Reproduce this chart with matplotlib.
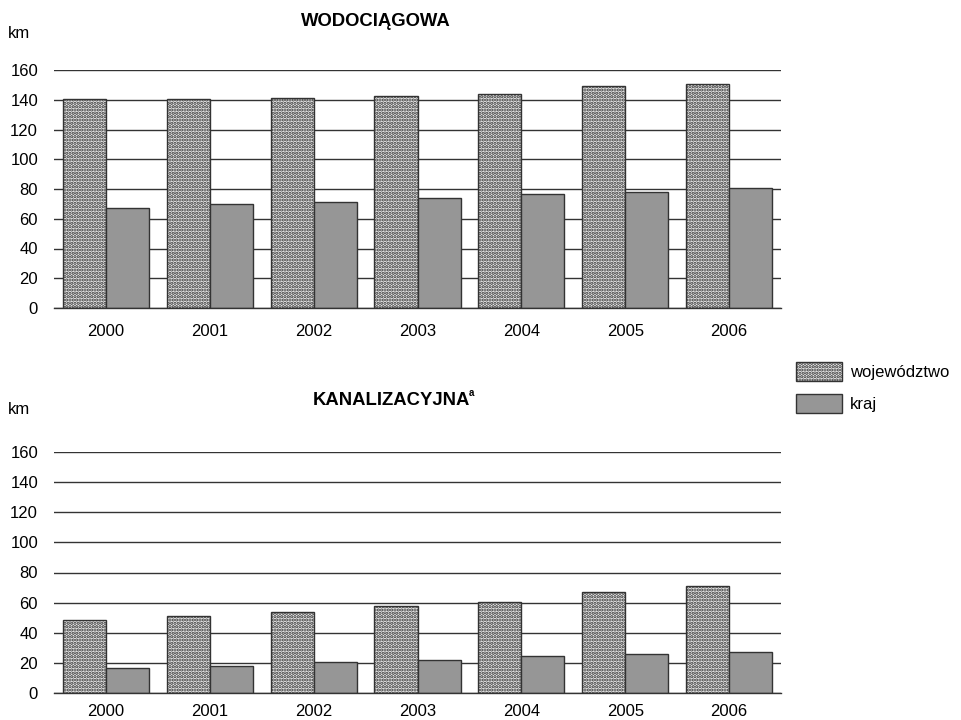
import matplotlib
matplotlib.use("Agg")
import matplotlib.pyplot as plt
import numpy as np
from matplotlib.patches import Patch

plt.rcParams['font.family'] = ['Liberation Sans', 'DejaVu Sans']
plt.rcParams['hatch.linewidth'] = 1.6

years = ["2000", "2001", "2002", "2003", "2004", "2005", "2006"]
y_ticks = [0, 20, 40, 60, 80, 100, 120, 140, 160]

# sieć wodociągowa (km na 100 km2)
woda_wojewodztwo = [140.3, 140.2, 141.4, 142.5, 144.0, 149.5, 150.6]
woda_kraj = [67.2, 69.9, 71.3, 73.9, 76.6, 78.0, 80.7]

# sieć kanalizacyjna (km na 100 km2)
kanal_wojewodztwo = [48.2, 50.8, 53.5, 57.5, 60.2, 66.8, 70.8]
kanal_kraj = [16.2, 17.6, 20.2, 21.6, 24.2, 25.6, 26.9]

label_woj = "województwo"
label_kraj = "kraj"

W, H = 962, 720
fig = plt.figure(figsize=(W / 100, H / 100), dpi=100)

DOT_FACE = "#ececec"
DOT_EDGE = "#333333"
KRAJ_FACE = "#969696"
EDGE = "#333333"
GRID = "#333333"


def fx(px):
    return px / W


def fy(py):
    return 1 - py / H


def draw_panel(ax, woj, kraj, label_pad):
    x = np.arange(len(years))
    bw = 0.415
    ax.bar(x - bw / 2, woj, width=bw, facecolor=DOT_FACE, edgecolor=DOT_EDGE,
           hatch=".....", linewidth=1.0, zorder=3)
    ax.bar(x + bw / 2, kraj, width=bw, facecolor=KRAJ_FACE, edgecolor=EDGE,
           linewidth=1.0, zorder=3)
    ax.set_xlim(-0.5, len(years) - 0.5)
    ax.set_ylim(0, 160)
    ax.set_yticks(y_ticks)
    ax.set_yticklabels([str(v) for v in y_ticks])
    ax.set_xticks(x)
    ax.set_xticklabels(years)
    ax.yaxis.grid(True, color=GRID, linewidth=1.0, zorder=0)
    ax.set_axisbelow(True)
    for s in ("left", "right", "top"):
        ax.spines[s].set_visible(False)
    ax.spines["bottom"].set_color(EDGE)
    ax.spines["bottom"].set_linewidth(1.0)
    ax.spines["bottom"].set_zorder(4)
    ax.tick_params(axis="y", length=0, pad=11.5, labelsize=12, colors="black")
    ax.tick_params(axis="x", length=0, pad=label_pad, labelsize=12, colors="black")


# górny panel: sieć wodociągowa
ax1 = fig.add_axes([fx(54), fy(308), fx(781) - fx(54), fy(70) - fy(308)])
draw_panel(ax1, woda_wojewodztwo, woda_kraj, 11.5)

# dolny panel: sieć kanalizacyjna
ax2 = fig.add_axes([fx(54), fy(692.7), fx(781) - fx(54), fy(452.3) - fy(692.7)])
draw_panel(ax2, kanal_wojewodztwo, kanal_kraj, 8)

fig.text(fx(376), fy(21), "WODOCIĄGOWA", fontsize=13.3, fontweight="bold",
         ha="center", va="center")
fig.text(fx(391), fy(400.5), "KANALIZACYJNA", fontsize=13.3,
         fontweight="bold", ha="center", va="center")
fig.text(fx(469), fy(393), "a", fontsize=7, fontweight="bold",
         ha="left", va="center")
fig.text(fx(8), fy(33), "km", fontsize=12, ha="left", va="center")
fig.text(fx(8), fy(410), "km", fontsize=12, ha="left", va="center")

handles = [
    Patch(facecolor=DOT_FACE, edgecolor=DOT_EDGE, hatch=".....", linewidth=1.0),
    Patch(facecolor=KRAJ_FACE, edgecolor=EDGE, linewidth=1.0),
]
fig.legend(handles, [label_woj, label_kraj], loc="upper left",
           bbox_to_anchor=(fx(795.7), fy(362.3)), frameon=False, fontsize=12,
           handlelength=2.76, handleheight=1.38, handletextpad=0.5,
           labelspacing=0.75, borderpad=0, borderaxespad=0)

fig.savefig("out.png", dpi=100)
